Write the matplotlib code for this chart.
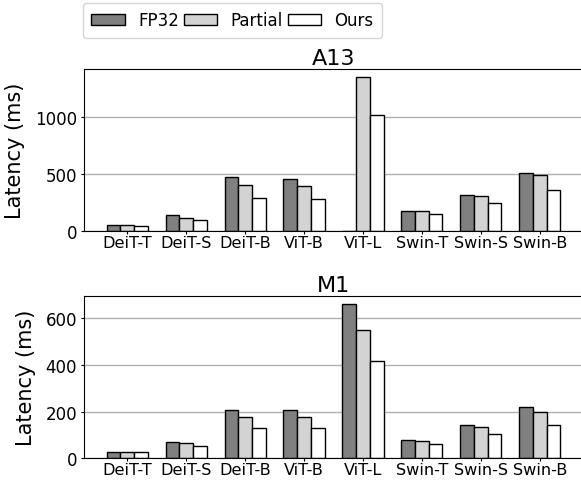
import matplotlib
matplotlib.use("Agg")
import matplotlib.pyplot as plt
import numpy as np

models = ["DeiT-T", "DeiT-S", "DeiT-B", "ViT-B", "ViT-L", "Swin-T", "Swin-S", "Swin-B"]
series = ["FP32", "Partial", "Ours"]
a13_fp32 = [53, 140, 474, 456, 0, 175, 316, 509]
a13_partial = [53, 120, 406, 397, 1351, 175, 310, 494]
a13_ours = [47, 102, 289, 286, 1017, 149, 246, 360]
m1_fp32 = [27, 70, 207, 205, 661, 78, 143, 218]
m1_partial = [27, 64, 175, 175, 551, 75, 134, 200]
m1_ours = [27, 53, 128, 131, 417, 61, 103, 144]
colors = ["#808080", "#d3d3d3", "#ffffff"]

fig = plt.figure(figsize=(5.81, 4.81), dpi=100)
ax1 = fig.add_axes([84/581, (481-232.3)/481, 499/581, 162/481])
ax2 = fig.add_axes([84/581, (481-459.3)/481, 499/581, 162/481])

x = np.arange(len(models))
w = 0.7/3
for ax, data, title in [(ax1, [a13_fp32, a13_partial, a13_ours], "A13"),
                        (ax2, [m1_fp32, m1_partial, m1_ours], "M1")]:
    for i, (vals, c, lab) in enumerate(zip(data, colors, series)):
        ax.bar(x + (i-1)*w, vals, w, color=c, edgecolor="black", linewidth=1, label=lab)
    ax.set_xticks(x)
    ax.set_xticklabels(models, fontsize=11.6)
    ax.tick_params(axis="x", length=2.0, pad=1.0)
    ax.tick_params(axis="y", labelsize=12, length=2.5, pad=2.5)
    ax.set_ylabel("Latency (ms)", fontsize=15, labelpad=7)
    ax.set_title(title, fontsize=16, pad=4)
    ax.yaxis.grid(True, color="#b0b0b0", linewidth=1)
    ax.set_axisbelow(True)

ax1.set_yticks([0, 500, 1000])
ax2.set_yticks([0, 200, 400, 600])

h, l = ax1.get_legend_handles_labels()
fig.legend(h, l, ncol=3, loc="upper left", bbox_to_anchor=(83/581, 1-4/481),
           fontsize=12, columnspacing=0.3, handletextpad=0.8, borderaxespad=0,
           borderpad=0.5, handlelength=2.0)

fig.savefig("out.png", dpi=100)
